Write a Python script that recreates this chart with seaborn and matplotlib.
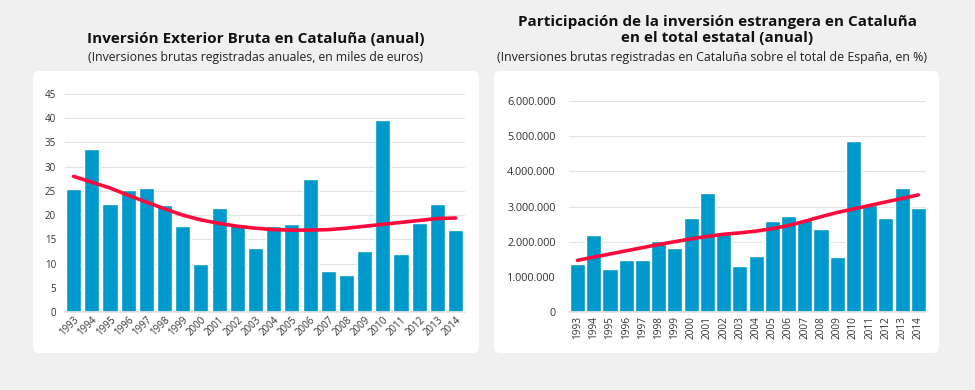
import numpy as np
import pandas as pd
import matplotlib
matplotlib.use("Agg")
import matplotlib.pyplot as plt
from matplotlib.patches import FancyBboxPatch
from matplotlib.ticker import FuncFormatter
import seaborn as sns

years = [str(y) for y in range(1993, 2015)]
inv_bruta = [25.4, 33.7, 22.3, 25.2, 25.6, 22.1, 17.8, 9.9, 21.5, 18.2, 13.2,
             17.8, 18.2, 27.5, 8.5, 7.65, 12.6, 39.7, 12.0, 18.4, 22.3, 17.0]
inv_bruta_trend = [28.0, 26.8, 25.6, 24.1, 22.7, 21.3, 20.0, 19.0, 18.3, 17.7, 17.3,
                   17.0, 16.9, 16.9, 17.0, 17.3, 17.7, 18.1, 18.5, 18.9, 19.3, 19.4]
participacion = [1365000, 2190000, 1220000, 1480000, 1480000, 2020000, 1820000,
                 2670000, 3380000, 2250000, 1310000, 1590000, 2590000, 2730000,
                 2620000, 2360000, 1560000, 4860000, 3040000, 2670000, 3530000, 2960000]
participacion_trend = [1470000, 1560000, 1650000, 1740000, 1830000, 1920000, 2000000,
                       2080000, 2150000, 2210000, 2250000, 2300000, 2370000, 2460000,
                       2580000, 2710000, 2830000, 2930000, 3030000, 3130000, 3230000, 3330000]
left_yticks = list(range(0, 46, 5))
right_yticks = list(range(0, 6000001, 1000000))

titles_left = ["Inversión Exterior Bruta en Cataluña (anual)",
               "(Inversiones brutas registradas anuales, en miles de euros)"]
titles_right = ["Participación de la inversión estrangera en Cataluña\nen el total estatal (anual)",
                "(Inversiones brutas registradas en Cataluña sobre el total de España, en %)"]

BAR = "#0099CC"
RED = "#FF0A3C"
BG = "#F0F0F0"
GRID = "#E3E3E3"
TXT = "#333333"

sns.set_theme(style="white")
plt.rcParams['font.family'] = ['Open Sans', 'DejaVu Sans']

W, H = 975, 390
fig = plt.figure(figsize=(9.75, 3.9), dpi=100, facecolor=BG)

def px_box(x0, y0, x1, y1):
    return [x0 / W, 1 - y1 / H, (x1 - x0) / W, (y1 - y0) / H]

# white panels
for (x0, y0, x1, y1) in [(33, 71, 479, 353), (494, 71, 939, 353)]:
    r = 6
    p = FancyBboxPatch(((x0) / W, 1 - y1 / H), (x1 - x0) / W, (y1 - y0) / H,
                       boxstyle=f"round,pad=0,rounding_size={r / W}",
                       transform=fig.transFigure, facecolor="white", edgecolor="none",
                       mutation_aspect=W / H, zorder=-5)
    fig.patches.append(p)

# left chart
axL = fig.add_axes(px_box(64.5, 94, 464.7, 312))
dfL = pd.DataFrame({"year": years, "val": inv_bruta})
sns.barplot(data=dfL, x="year", y="val", color=BAR, saturation=1, width=0.83, ax=axL, zorder=2)
sns.lineplot(x=np.arange(len(years)), y=inv_bruta_trend, color=RED, linewidth=2.6, ax=axL, zorder=3)
axL.set_ylim(0, 45)
axL.set_xlim(-0.5, len(years) - 0.5)
axL.set_yticks(left_yticks)
axL.set_facecolor("none")
axL.grid(axis="y", color=GRID, linewidth=0.8, zorder=0)
axL.set_axisbelow(True)
for s in ["top", "right", "left"]:
    axL.spines[s].set_visible(False)
axL.spines["bottom"].set_color(GRID)
axL.set_xlabel("")
axL.set_ylabel("")
axL.tick_params(axis="both", length=0, colors=TXT, labelsize=7, pad=6)
axL.tick_params(axis="x", pad=2)
for lab in axL.get_xticklabels():
    lab.set_rotation(45)
    lab.set_ha("right")
    lab.set_rotation_mode("anchor")

# right chart
axR = fig.add_axes(px_box(569.4, 101, 926.5, 312))
dfR = pd.DataFrame({"year": years, "val": participacion})
sns.barplot(data=dfR, x="year", y="val", color=BAR, saturation=1, width=0.93, ax=axR, zorder=2)
sns.lineplot(x=np.arange(len(years)), y=participacion_trend, color=RED, linewidth=2.6, ax=axR, zorder=3)
axR.set_ylim(0, 6000000)
axR.set_xlim(-0.5, len(years) - 0.5)
axR.set_yticks(right_yticks)
axR.yaxis.set_major_formatter(FuncFormatter(lambda v, p: f"{int(v):,}".replace(",", ".")))
axR.set_facecolor("none")
axR.grid(axis="y", color=GRID, linewidth=0.8, zorder=0)
axR.set_axisbelow(True)
for s in ["top", "right", "left"]:
    axR.spines[s].set_visible(False)
axR.spines["bottom"].set_color(GRID)
axR.set_xlabel("")
axR.set_ylabel("")
axR.tick_params(axis="y", length=0, colors=TXT, labelsize=7.8, pad=10)
axR.tick_params(axis="x", length=0, colors=TXT, labelsize=7.2, pad=3)
for lab in axR.get_xticklabels():
    lab.set_rotation(90)

# titles
fig.text(256 / W, 1 - 39 / H, titles_left[0], ha="center", va="center",
         fontsize=11, fontweight="bold", color="#111111")
fig.text(256 / W, 1 - 57 / H, titles_left[1], ha="center", va="center",
         fontsize=8.8, color="#222222")
fig.text(717 / W, 1 - 30 / H, titles_right[0], ha="center", va="center",
         fontsize=11, fontweight="bold", color="#111111", linespacing=1.15)
fig.text(712 / W, 1 - 57 / H, titles_right[1], ha="center", va="center",
         fontsize=8.9, color="#222222")

fig.savefig("out.png", dpi=100, facecolor=BG)
